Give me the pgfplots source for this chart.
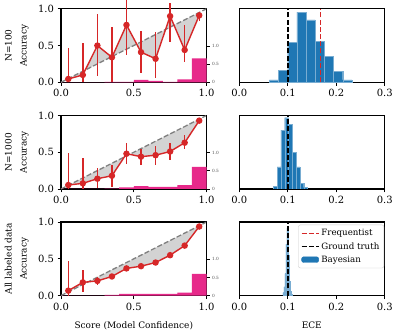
\documentclass[border=0pt]{standalone}
\usepackage{fontspec}
\setmainfont{DejaVu Serif}
\usepackage{pgfplots}
\pgfplotsset{compat=1.18}
\definecolor{tabred}{RGB}{214,39,40}
\definecolor{tabblue}{RGB}{31,119,180}
\definecolor{mypink}{RGB}{231,41,138}
\definecolor{fillgray}{RGB}{211,211,211}
\pgfplotsset{
  base/.style={scale only axis, width=145.5bp, height=73.5bp,
    axis line style={line width=1.2bp},
    every tick/.style={line width=0.9bp, black},
    major tick length=3.5bp, tick align=outside,
    ticklabel style={font=\fontsize{10}{11}\selectfont},
    /pgf/number format/assume math mode=true,
    /pgf/number format/fixed, /pgf/number format/fixed zerofill,
    /pgf/number format/precision=1},
  relaxis/.style={base, xmin=0, xmax=1, ymin=0, ymax=1,
    xtick={0,0.5,1}, ytick={0,0.5,1}, tick pos=left, clip=false},
  twinaxis/.style={scale only axis, width=145.5bp, height=73.5bp,
    xmin=0, xmax=1, ymin=0, ymax=2.03, axis x line=none, axis y line*=right,
    axis line style={line width=1.2bp},
    ytick={0,0.5,1}, yticklabels={0,0.5,1.0}, tick align=outside,
    major tick length=3bp, every tick/.style={line width=0.8bp, black},
    yticklabel style={font=\fontsize{4.3}{5}\selectfont, text=black!70, xshift=-1bp}},
  eceaxis/.style={base, xmin=0, xmax=0.3, ymin=0, ymax=1,
    xtick={0,0.1,0.2,0.3}, ytick=\empty, xtick pos=bottom},
  accline/.style={color=tabred, line width=1.4bp, mark=*, mark size=2.5bp,
    mark options={fill=tabred, draw=tabred},
    error bars/.cd, y dir=both, y explicit,
    error bar style={line width=1.4bp, color=tabred, solid},
    error mark=none},
  diag/.style={black!50, line width=1.3bp, dash pattern=on 5bp off 2.2bp},
  pinkbars/.style={ybar interval, fill=mypink, draw=none},
  bluebars/.style={ybar interval, fill=tabblue, draw=tabblue!60!white, line width=0.3bp},
  vline/.style={line width=1.4bp, dash pattern=on 5bp off 2.2bp},
}
\begin{document}
\begin{tikzpicture}
\useasboundingbox (0,0) rectangle (393bp,330bp);
% ---------------- Row 1: N=100 ----------------
\begin{axis}[relaxis, at={(61bp,247.7bp)}, anchor=south west]
\addplot[fill=fillgray, draw=none] coordinates {
 (0.05,0.045) (0.15,0.10) (0.25,0.50) (0.35,0.34) (0.45,0.78) (0.55,0.41)
 (0.65,0.32) (0.75,0.90) (0.85,0.44) (0.95,0.91)
 (0.95,0.95) (0.85,0.85) (0.75,0.75) (0.65,0.65) (0.55,0.55) (0.45,0.45)
 (0.35,0.35) (0.25,0.25) (0.15,0.15) (0.05,0.05)} -- cycle;
\addplot[diag] coordinates {(0,0) (1,1)};
\addplot[accline] coordinates {
 (0.05,0.045) += (0,0.415) -= (0,0.045)
 (0.15,0.10)  += (0,0.44)  -= (0,0.10)
 (0.25,0.50)  += (0,0.43)  -= (0,0.42)
 (0.35,0.34)  += (0,0.41)  -= (0,0.34)
 (0.45,0.78)  += (0,0.34)  -= (0,0.41)
 (0.55,0.41)  += (0,0.29)  -= (0,0.29)
 (0.65,0.32)  += (0,0.36)  -= (0,0.26)
 (0.75,0.90)  += (0,0.18)  -= (0,0.35)
 (0.85,0.44)  += (0,0.34)  -= (0,0.16)
 (0.95,0.91)  += (0,0.05)  -= (0,0.07)};
\end{axis}
\begin{axis}[twinaxis, at={(61bp,247.7bp)}, anchor=south west]
\addplot[pinkbars] coordinates {(0,0) (0.1,0) (0.2,0) (0.3,0.015) (0.4,0.015) (0.5,0.065) (0.6,0.04) (0.7,0.01) (0.8,0.08) (0.9,0.66) (1.0,0.66)};
\end{axis}
\begin{axis}[eceaxis, at={(239.3bp,247.7bp)}, anchor=south west]
\addplot[bluebars] coordinates {(0.0620,0.032) (0.0809,0.16) (0.0998,0.54) (0.1187,0.955) (0.1376,0.85) (0.1565,0.555) (0.1754,0.35) (0.1943,0.145) (0.2132,0.032) (0.2321,0.032)};
\addplot[color=tabred, vline] coordinates {(0.168,0) (0.168,1)};
\addplot[color=black, vline] coordinates {(0.1,0) (0.1,1)};
\end{axis}
% ---------------- Row 2: N=1000 ----------------
\begin{axis}[relaxis, at={(61bp,141bp)}, anchor=south west]
\addplot[fill=fillgray, draw=none] coordinates {
 (0.05,0.054) (0.15,0.077) (0.25,0.14) (0.35,0.18) (0.45,0.48) (0.55,0.44)
 (0.65,0.46) (0.75,0.51) (0.85,0.63) (0.95,0.93)
 (0.95,0.95) (0.85,0.85) (0.75,0.75) (0.65,0.65) (0.55,0.55) (0.45,0.45)
 (0.35,0.35) (0.25,0.25) (0.15,0.15) (0.05,0.05)} -- cycle;
\addplot[diag] coordinates {(0,0) (1,1)};
\addplot[accline] coordinates {
 (0.05,0.054) += (0,0.43) -= (0,0.054)
 (0.15,0.077) += (0,0.35) -= (0,0.077)
 (0.25,0.14)  += (0,0.15) -= (0,0.12)
 (0.35,0.18)  += (0,0.14) -= (0,0.15)
 (0.45,0.48)  += (0,0.15) -= (0,0.14)
 (0.55,0.44)  += (0,0.11) -= (0,0.12)
 (0.65,0.46)  += (0,0.12) -= (0,0.13)
 (0.75,0.51)  += (0,0.12) -= (0,0.12)
 (0.85,0.63)  += (0,0.10) -= (0,0.09)
 (0.95,0.93)  += (0,0.02) -= (0,0.02)};
\end{axis}
\begin{axis}[twinaxis, at={(61bp,141bp)}, anchor=south west]
\addplot[pinkbars] coordinates {(0,0) (0.1,0) (0.2,0) (0.3,0.01) (0.4,0.045) (0.5,0.08) (0.6,0.06) (0.7,0.06) (0.8,0.11) (0.9,0.61) (1.0,0.61)};
\end{axis}
\begin{axis}[eceaxis, at={(239.3bp,141bp)}, anchor=south west]
\addplot[bluebars] coordinates {(0.0703,0.04) (0.0781,0.3) (0.0859,0.8) (0.0937,0.97) (0.1015,0.88) (0.1093,0.5) (0.1171,0.3) (0.1249,0.08) (0.1327,0.02) (0.1405,0.02)};
\addplot[color=tabred, vline] coordinates {(0.102,0) (0.102,1)};
\addplot[color=black, vline] coordinates {(0.1,0) (0.1,1)};
\end{axis}
% ---------------- Row 3: All labeled data ----------------
\begin{axis}[relaxis, at={(61bp,34.4bp)}, anchor=south west]
\addplot[fill=fillgray, draw=none] coordinates {
 (0.05,0.067) (0.15,0.18) (0.25,0.20) (0.35,0.26) (0.45,0.37) (0.55,0.40)
 (0.65,0.45) (0.75,0.55) (0.85,0.68) (0.95,0.94)
 (0.95,0.95) (0.85,0.85) (0.75,0.75) (0.65,0.65) (0.55,0.55) (0.45,0.45)
 (0.35,0.35) (0.25,0.25) (0.15,0.15) (0.05,0.05)} -- cycle;
\addplot[diag] coordinates {(0,0) (1,1)};
\addplot[accline] coordinates {
 (0.05,0.067) += (0,0.41)  -= (0,0.067)
 (0.15,0.18)  += (0,0.17)  -= (0,0.13)
 (0.25,0.20)  += (0,0.05)  -= (0,0.05)
 (0.35,0.26)  += (0,0.03)  -= (0,0.03)
 (0.45,0.37)  += (0,0.02)  -= (0,0.02)
 (0.55,0.40)  += (0,0.015) -= (0,0.015)
 (0.65,0.45)  += (0,0.015) -= (0,0.015)
 (0.75,0.55)  += (0,0.015) -= (0,0.015)
 (0.85,0.68)  += (0,0.015) -= (0,0.015)
 (0.95,0.94)  += (0,0.01)  -= (0,0.01)};
\end{axis}
\begin{axis}[twinaxis, at={(61bp,34.4bp)}, anchor=south west]
\addplot[pinkbars] coordinates {(0,0) (0.1,0) (0.2,0) (0.3,0.02) (0.4,0.045) (0.5,0.05) (0.6,0.05) (0.7,0.05) (0.8,0.08) (0.9,0.6) (1.0,0.6)};
\end{axis}
\begin{axis}[eceaxis, at={(239.3bp,34.4bp)}, anchor=south west,
  legend style={at={(rel axis cs:0.995,0.965)}, anchor=north east,
    font=\fontsize{8.7}{10}\selectfont, draw=black!20, rounded corners=2bp,
    fill=white, inner xsep=2.5bp, inner ysep=2.5bp, row sep=1.2bp},
  legend cell align=left]
\addlegendimage{color=tabred, line width=1.4bp, dash pattern=on 5bp off 2.2bp}
\addlegendentry{Frequentist}
\addlegendimage{color=black, line width=1.4bp, dash pattern=on 5bp off 2.2bp}
\addlegendentry{Ground truth}
\addlegendimage{area legend, fill=tabblue, draw=tabblue}
\addlegendentry{Bayesian}
\addplot[bluebars, forget plot] coordinates {(0.090,0.04) (0.092,0.12) (0.094,0.3) (0.096,0.7) (0.098,0.92) (0.100,0.55) (0.102,0.2) (0.104,0.06) (0.106,0.02) (0.108,0.02)};
\addplot[color=tabred, vline, forget plot] coordinates {(0.1,0) (0.1,1)};
\addplot[color=black, vline, forget plot] coordinates {(0.1,0) (0.1,1)};
\end{axis}
% ---------------- Labels ----------------
\begin{scope}[every node/.style={font=\fontsize{9}{10}\selectfont}]
\node[rotate=90, anchor=base] at (11.7bp,284.4bp) {N=100};
\node[rotate=90, anchor=base] at (26.6bp,284.4bp) {Accuracy};
\node[rotate=90, anchor=base] at (11.7bp,177.7bp) {N=1000};
\node[rotate=90, anchor=base] at (26.6bp,177.7bp) {Accuracy};
\node[rotate=90, anchor=base] at (11.7bp,71.1bp) {All labeled data};
\node[rotate=90, anchor=base] at (26.6bp,71.1bp) {Accuracy};
\node[anchor=base] at (133.8bp,1.5bp) {Score (Model Confidence)};
\node[anchor=base] at (311.8bp,1.5bp) {ECE};
\end{scope}
\end{tikzpicture}
\end{document}
